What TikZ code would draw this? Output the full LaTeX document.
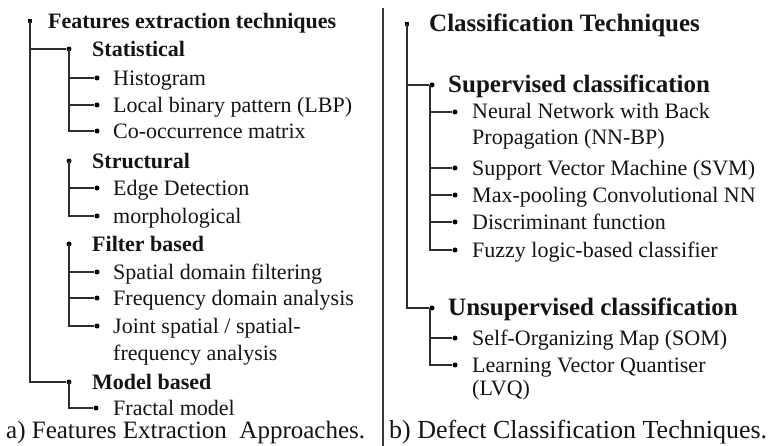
\documentclass[tikz,border=0pt]{standalone}
\usepackage{fontspec}
\setmainfont{Liberation Serif}
\begin{document}
\begin{tikzpicture}[x=1pt,y=-1pt,
  conn/.style={draw=black!82, line width=1.4pt},
  dot/.style={circle, fill=black, inner sep=0pt, minimum size=5pt},
  sq/.style={rectangle, fill=black, inner sep=0pt, minimum size=4.5pt},
  item/.style={anchor=base west, inner sep=0pt, font=\fontsize{22}{27}\selectfont, text=black!92, align=left},
  headL/.style={item, font=\bfseries\fontsize{22}{27}\selectfont},
  headR/.style={item, font=\bfseries\fontsize{25}{30}\selectfont},
  capt/.style={item, font=\fontsize{25}{30}\selectfont}]
\useasboundingbox (0,0) rectangle (768,446);
\fill[white] (0,0) rectangle (768,446);

% ---------- left panel ----------
\node[sq] (r0) at (30,21) {};
\node[headL] (t0) at (48,28.5) {Features extraction techniques};

\node[dot] (b1) at (69,49) {};
\node[headL] (t1) at (92,56.5) {Statistical};
\node[dot] (b11) at (97,78) {};
\node[item] (t11) at (113,85.5) {Histogram};
\node[dot] (b12) at (97,105) {};
\node[item] (t12) at (113,112.5) {Local binary pattern (LBP)};
\node[dot] (b13) at (97,131) {};
\node[item] (t13) at (113,138.5) {Co-occurrence matrix};

\node[dot] (b2) at (69,161) {};
\node[headL] (t2) at (92,168.5) {Structural};
\node[dot] (b21) at (97,188) {};
\node[item] (t21) at (113,195.5) {Edge Detection};
\node[dot] (b22) at (97,216) {};
\node[item] (t22) at (113,223.5) {morphological};

\node[dot] (b3) at (69,244) {};
\node[headL] (t3) at (92,251.5) {Filter based};
\node[dot] (b31) at (97,272) {};
\node[item] (t31) at (113,279.5) {Spatial domain filtering};
\node[dot] (b32) at (97,298) {};
\node[item] (t32) at (113,305.5) {Frequency domain analysis};
\node[dot] (b33) at (97,326) {};
% base anchor of a two-line node lies on its last line
\node[item] (t33) at (113,360.5) {Joint spatial / spatial-\\frequency analysis};

\node[dot] (b4) at (69,382) {};
\node[headL] (t4) at (92,389.5) {Model based};
\node[dot] (b41) at (96,408) {};
\node[item] (t41) at (113,415) {Fractal model};

\node[capt] (capa) at (6,438.5) {a) Features Extraction\ \ Approaches.};

\draw[conn] (r0.center) |- (b4);
\draw[conn] (r0.center |- b1) -- (b1);
\draw[conn] (b1.center) |- (b13);
\draw[conn] (b1.center |- b11) -- (b11);
\draw[conn] (b1.center |- b12) -- (b12);
\draw[conn] (b2.center) |- (b22);
\draw[conn] (b2.center |- b21) -- (b21);
\draw[conn] (b3.center) |- (b33);
\draw[conn] (b3.center |- b31) -- (b31);
\draw[conn] (b3.center |- b32) -- (b32);
\draw[conn] (b4.center) |- (b41);

% ---------- separator ----------
\coordinate (septop) at (383,8);
\coordinate (sepbot) at (383,446);
\draw[draw=black!78, line width=1.4pt] (septop) -- (sepbot);

% ---------- right panel ----------
\node[sq] (r1) at (407,24) {};
\node[headR] (u0) at (429,31.5) {Classification Techniques};

\node[dot] (c1) at (432,85) {};
\node[headR] (u1) at (448,92.5) {Supervised classification};
\coordinate (v1) at (430,85);
\node[dot] (c11) at (455,112) {};
\node[item, font=\fontsize{22}{26}\selectfont] (u11) at (472,145) {Neural Network with Back\\Propagation (NN-BP)};
\node[dot] (c12) at (455,168) {};
\node[item] (u12) at (472,175.5) {Support Vector Machine (SVM)};
\node[dot] (c13) at (455,195) {};
\node[item] (u13) at (472,202.5) {Max-pooling Convolutional NN};
\node[dot] (c14) at (455,222) {};
\node[item] (u14) at (472,229.5) {Discriminant function};
\node[dot] (c15) at (455,250) {};
\node[item] (u15) at (472,257.5) {Fuzzy logic-based classifier};

\node[dot] (c2) at (432,308) {};
\node[headR] (u2) at (448,315.5) {Unsupervised classification};
\coordinate (v2) at (430,308);
\node[dot] (c21) at (455,338) {};
\node[item] (u21) at (472,345.5) {Self-Organizing Map (SOM)};
\node[dot] (c22) at (455,365) {};
\node[item, font=\fontsize{22}{23}\selectfont] (u22) at (472,395) {Learning Vector Quantiser\\(LVQ)};

\node[capt, font=\fontsize{26}{30}\selectfont] (capb) at (389,438.5) {b) Defect Classification Techniques.};

\draw[conn] (r1.center) |- (c2);
\draw[conn] (r1.center |- c1) -- (c1);
\draw[conn] (v1) |- (c15);
\draw[conn] (v1 |- c11) -- (c11);
\draw[conn] (v1 |- c12) -- (c12);
\draw[conn] (v1 |- c13) -- (c13);
\draw[conn] (v1 |- c14) -- (c14);
\draw[conn] (v2) |- (c22);
\draw[conn] (v2 |- c21) -- (c21);
\end{tikzpicture}
\end{document}
